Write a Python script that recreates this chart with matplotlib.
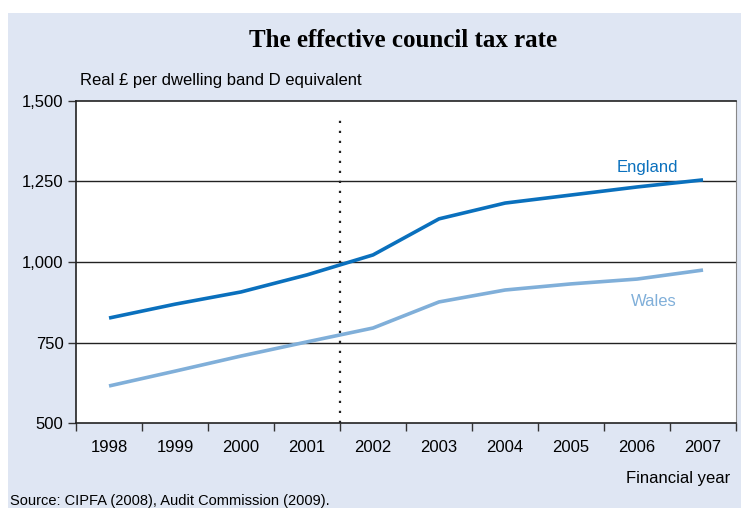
import numpy as np
import matplotlib.pyplot as plt
from matplotlib.patches import Rectangle
from matplotlib.ticker import FuncFormatter

years = ['1998', '1999', '2000', '2001', '2002', '2003', '2004', '2005', '2006', '2007']
england = [826, 869, 907, 960, 1022, 1134, 1183, 1208, 1233, 1255]
wales = [615, 661, 708, 752, 795, 876, 913, 932, 947, 975]

bg = '#dfe6f3'
c_eng = '#0a70bd'
c_wal = '#80afd9'

plt.rcParams['font.family'] = ['Liberation Sans', 'DejaVu Sans']

fig = plt.figure(figsize=(7.41, 5.08), dpi=100, facecolor='white')
# light blue panel, leaving a thin white strip at top and left
fig.patches.append(Rectangle((8 / 741, 0), 1 - 8 / 741, 1 - 13 / 508, transform=fig.transFigure,
                             facecolor=bg, edgecolor='none', zorder=-10))

ax = fig.add_axes([0.1026, 0.1673, 0.8907, 0.6339])
ax.set_facecolor('white')

x = np.arange(len(years))
ax.plot(x, england, color=c_eng, lw=2.6, solid_capstyle='butt')
ax.plot(x, wales, color=c_wal, lw=2.6, solid_capstyle='butt')

ax.set_xlim(-0.5, len(years) - 0.5)
ax.set_ylim(500, 1500)
ax.set_yticks([500, 750, 1000, 1250, 1500])
ax.yaxis.set_major_formatter(FuncFormatter(lambda v, p: f'{int(v):,}'))
for v in [750, 1000, 1250]:
    ax.axhline(v, color='#222222', lw=1.0, zorder=1)

# dotted marker between 2001 and 2002
ax.axvline(3.5, ymax=0.957, color='#222222', lw=1.6, ls=(0, (1, 3.5)), zorder=1)

ax.set_xticks(x)
ax.set_xticklabels(years)
ax.set_xticks(np.arange(-0.5, len(years)), minor=True)
ax.tick_params(axis='x', which='major', length=0, pad=12, labelsize=12)
ax.tick_params(axis='x', which='minor', length=6, width=1, color='#333333', direction='out')
ax.tick_params(axis='y', length=6, width=1, color='#333333', labelsize=12, pad=3)

for s in ['left', 'bottom', 'top']:
    ax.spines[s].set_color('#222222')
    ax.spines[s].set_linewidth(1.2)
ax.spines['right'].set_color('#888888')

ax.text(8.15, 1270, 'England', color=c_eng, fontsize=12, ha='center', va='bottom')
ax.text(8.25, 855, 'Wales', color=c_wal, fontsize=12, ha='center', va='bottom')

fig.text(0.544, 0.92, 'The effective council tax rate', family=['Liberation Serif', 'DejaVu Serif'],
         fontweight='bold', fontsize=18, ha='center', va='center')
fig.text(0.108, 0.842, 'Real £ per dwelling band D equivalent', fontsize=12, ha='left', va='center')
fig.text(0.985, 0.059, 'Financial year', fontsize=12, ha='right', va='center')
fig.text(0.013, 0.014, 'Source: CIPFA (2008), Audit Commission (2009).', fontsize=10.5, ha='left', va='center')

fig.savefig('out.png', dpi=100, facecolor='white')
